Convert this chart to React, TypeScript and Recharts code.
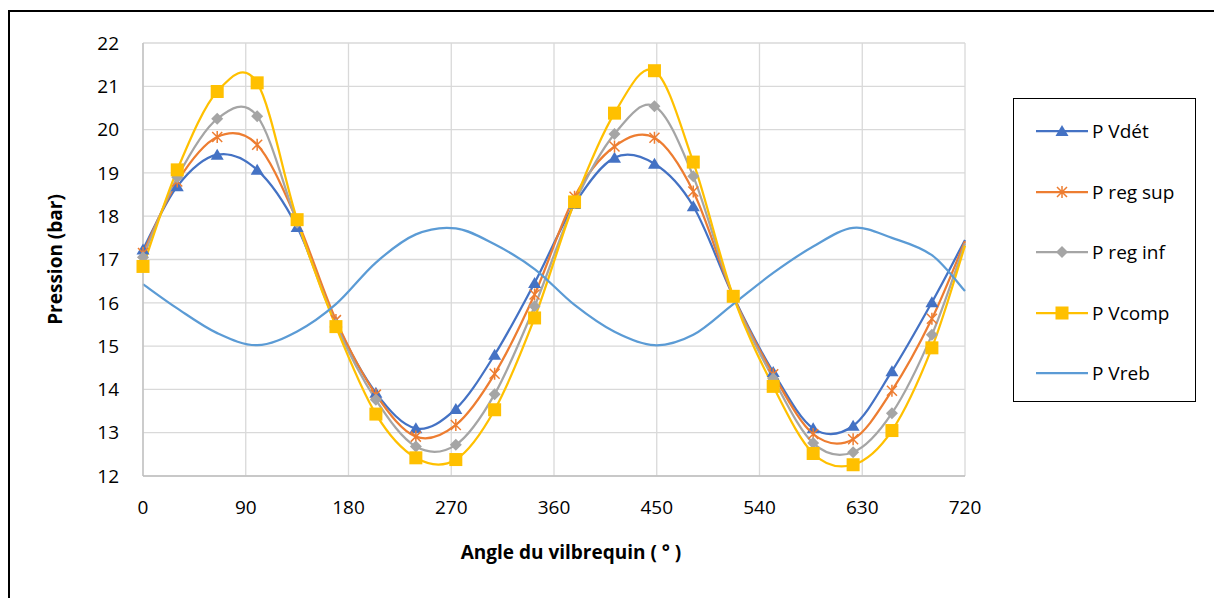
import React from "react";
import { LineChart, Line, XAxis, YAxis, CartesianGrid, Legend } from "recharts";

// angle du vilbrequin (°) - la courbe est coupée à 720 (pas de marqueur)
const angles = [0, 30, 65, 100, 135, 169, 204, 239, 274, 308, 343, 378, 413, 448, 482, 517, 552, 587, 622, 656, 691, 720];

// pressions (bar)
const pVdet = [17.23, 18.69, 19.42, 19.07, 17.75, 15.55, 13.92, 13.1, 13.55, 14.8, 16.46, 18.28, 19.35, 19.21, 18.23, 16.15, 14.4, 13.1, 13.16, 14.42, 16.01, 17.45];
const pRegSup = [17.15, 18.8, 19.83, 19.65, 17.9, 15.6, 13.88, 12.91, 13.18, 14.36, 16.19, 18.45, 19.61, 19.81, 18.57, 16.15, 14.35, 12.97, 12.85, 13.97, 15.63, 17.42];
const pRegInf = [17.05, 18.9, 20.25, 20.31, 17.85, 15.5, 13.76, 12.68, 12.72, 13.89, 15.92, 18.3, 19.9, 20.54, 18.92, 16.15, 14.25, 12.76, 12.55, 13.45, 15.26, 17.37];
const pVcomp = [16.84, 19.07, 20.88, 21.08, 17.92, 15.45, 13.43, 12.42, 12.38, 13.53, 15.65, 18.33, 20.38, 21.36, 19.25, 16.15, 14.07, 12.52, 12.26, 13.05, 14.96, 17.32];
const pVreb = [16.43, 15.87, 15.3, 15.02, 15.34, 15.97, 16.93, 17.58, 17.72, 17.35, 16.78, 15.95, 15.33, 15.02, 15.26, 15.97, 16.69, 17.3, 17.73, 17.5, 17.1, 16.27];

const xTicks = [0, 90, 180, 270, 360, 450, 540, 630, 720];
const yTicks = [12, 13, 14, 15, 16, 17, 18, 19, 20, 21, 22];

const data = angles.map((a, i) => ({
  angle: a,
  vdet: pVdet[i],
  regSup: pRegSup[i],
  regInf: pRegInf[i],
  vcomp: pVcomp[i],
  vreb: pVreb[i],
}));

const FONT = "'Open Sans', 'Noto Sans', sans-serif";
const BLUE = "#4472C4";
const ORANGE = "#ED7D31";
const GRAY = "#A5A5A5";
const YELLOW = "#FFC000";
const LIGHT = "#5B9BD5";

// lissage façon Excel (Catmull-Rom)
function excelCurve(ctx: any) {
  let pts: number[][] = [];
  return {
    areaStart() {},
    areaEnd() {},
    lineStart() { pts = []; },
    point(x: number, y: number) { pts.push([+x, +y]); },
    lineEnd() {
      const n = pts.length;
      if (!n) return;
      ctx.moveTo(pts[0][0], pts[0][1]);
      for (let i = 0; i < n - 1; i++) {
        const p0 = pts[Math.max(i - 1, 0)];
        const p1 = pts[i];
        const p2 = pts[i + 1];
        const p3 = pts[Math.min(i + 2, n - 1)];
        ctx.bezierCurveTo(
          p1[0] + (p2[0] - p0[0]) / 6, p1[1] + (p2[1] - p0[1]) / 6,
          p2[0] - (p3[0] - p1[0]) / 6, p2[1] - (p3[1] - p1[1]) / 6,
          p2[0], p2[1]
        );
      }
    },
  };
}

// marqueurs
function markerShape(kind: string, cx: number, cy: number, color: string) {
  if (kind === "triangle")
    return <path d={`M${cx},${cy - 6} L${cx + 6.5},${cy + 5} L${cx - 6.5},${cy + 5} Z`} fill={color} />;
  if (kind === "star")
    return (
      <path
        d={`M${cx},${cy - 6} L${cx},${cy + 6} M${cx - 5},${cy - 5} L${cx + 5},${cy + 5} M${cx - 5},${cy + 5} L${cx + 5},${cy - 5}`}
        stroke={color} strokeWidth={1.5} fill="none"
      />
    );
  if (kind === "diamond")
    return <path d={`M${cx},${cy - 6} L${cx + 6},${cy} L${cx},${cy + 6} L${cx - 6},${cy} Z`} fill={color} />;
  if (kind === "square")
    return <rect x={cx - 6.5} y={cy - 6.5} width={13} height={13} fill={color} />;
  return null;
}

const makeDot = (kind: string, color: string) => (p: any) => {
  if (p.cx == null || p.cy == null || (p.payload && p.payload.angle >= 720)) return <g key={p.index} />;
  return <g key={p.index}>{markerShape(kind, p.cx, p.cy, color)}</g>;
};

const legendItems = [
  { name: "P Vdét", color: BLUE, kind: "triangle" },
  { name: "P reg sup", color: ORANGE, kind: "star" },
  { name: "P reg inf", color: GRAY, kind: "diamond" },
  { name: "P Vcomp", color: YELLOW, kind: "square" },
  { name: "P Vreb", color: LIGHT, kind: "none" },
];

function LegendBox() {
  return (
    <div style={{ width: 183, height: 304, border: "1.5px solid #000", boxSizing: "border-box", position: "relative", background: "#fff" }}>
      {legendItems.map((it, i) => (
        <div key={it.name} style={{ position: "absolute", left: 20, top: 22 + i * 60.5, height: 20, display: "flex", alignItems: "center" }}>
          <svg width={56} height={20}>
            <line x1={2} x2={54} y1={10} y2={10} stroke={it.color} strokeWidth={2.25} />
            {markerShape(it.kind, 28, 10, it.color)}
          </svg>
          <span style={{ fontFamily: FONT, fontSize: 19, color: "#000", marginLeft: 2, whiteSpace: "nowrap" }}>{it.name}</span>
        </div>
      ))}
    </div>
  );
}

export default function App() {
  return (
    <div style={{ position: "fixed", left: 0, top: 0, width: 1214, height: 598, overflow: "hidden", background: "#fff" }}>
      <div style={{ position: "absolute", left: 8, top: 10, width: 1400, height: 800, border: "2px solid #000" }} />
      <div style={{ position: "absolute", left: 0, top: 0 }}>
        <LineChart width={1214} height={598} data={data} margin={{ top: 43, right: 249, bottom: 22, left: 43 }}>
          <CartesianGrid stroke="#D9D9D9" strokeWidth={1.3} />
          <XAxis
            dataKey="angle"
            type="number"
            domain={[0, 720]}
            ticks={xTicks}
            height={100}
            axisLine={{ stroke: "#BFBFBF", strokeWidth: 1.3 }}
            tickLine={false}
            tickMargin={19}
            tick={{ fontSize: 19, fill: "#000", fontFamily: FONT }}
            label={{
              content: (props: any) => {
                const vb = props.viewBox;
                return (
                  <text x={vb.x + vb.width / 2 + 17} y={vb.y + 83} textAnchor="middle"
                    style={{ fontFamily: FONT, fontSize: 19, fontWeight: 700, fill: "#000" }}>
                    Angle du vilbrequin ( ° )
                  </text>
                );
              },
            }}
          />
          <YAxis
            type="number"
            domain={[12, 22]}
            ticks={yTicks}
            width={100}
            axisLine={{ stroke: "#BFBFBF", strokeWidth: 1.3 }}
            tickLine={false}
            tickMargin={18}
            tick={{ fontSize: 19, fill: "#000", fontFamily: FONT }}
            label={{
              content: (props: any) => {
                const vb = props.viewBox;
                const x = vb.x + 19;
                const y = vb.y + vb.height / 2;
                return (
                  <text x={x} y={y} transform={`rotate(-90 ${x} ${y})`} textAnchor="middle"
                    style={{ fontFamily: FONT, fontSize: 19, fontWeight: 700, fill: "#000" }}>
                    Pression (bar)
                  </text>
                );
              },
            }}
          />
          <Legend
            layout="vertical"
            align="center"
            verticalAlign="middle"
            wrapperStyle={{ left: 1013, top: 98, width: 183, height: 304 }}
            content={() => <LegendBox />}
          />
          <Line dataKey="vdet" name="P Vdét" type={excelCurve as any} stroke={BLUE} strokeWidth={2.25} dot={makeDot("triangle", BLUE)} activeDot={false} isAnimationActive={false} />
          <Line dataKey="regSup" name="P reg sup" type={excelCurve as any} stroke={ORANGE} strokeWidth={2.25} dot={makeDot("star", ORANGE)} activeDot={false} isAnimationActive={false} />
          <Line dataKey="regInf" name="P reg inf" type={excelCurve as any} stroke={GRAY} strokeWidth={2.25} dot={makeDot("diamond", GRAY)} activeDot={false} isAnimationActive={false} />
          <Line dataKey="vcomp" name="P Vcomp" type={excelCurve as any} stroke={YELLOW} strokeWidth={2.25} dot={makeDot("square", YELLOW)} activeDot={false} isAnimationActive={false} />
          <Line dataKey="vreb" name="P Vreb" type={excelCurve as any} stroke={LIGHT} strokeWidth={2.25} dot={false} activeDot={false} isAnimationActive={false} />
        </LineChart>
      </div>
    </div>
  );
}
